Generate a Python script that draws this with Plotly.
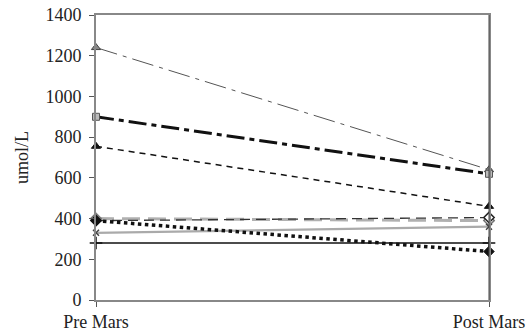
import plotly.graph_objects as go

categories = ["Pre Mars", "Post Mars"]
x_pos = [0, 1]

# umol/L per subject, before and after
s_gray_tri = [1240, 640]
s_square = [900, 620]
s_black_tri = [755, 460]
s_black_dash = [390, 405]
s_gray_dash = [400, 390]
s_gray_solid = [330, 360]
s_black_solid = [280, 280]
s_dotted = [390, 238]

y_ticks = [0, 200, 400, 600, 800, 1000, 1200, 1400]

SERIF = "'Liberation Serif', 'Times New Roman', Times, serif"

fig = go.Figure()

def add(y, color, width, dash, symbol, msize, mcolor, mline="#333", mlw=1):
    fig.add_trace(go.Scatter(
        x=x_pos, y=y, mode="lines+markers",
        line=dict(color=color, width=width, dash=dash),
        marker=dict(symbol=symbol, size=msize, color=mcolor,
                    line=dict(color=mline, width=mlw)),
        showlegend=False, cliponaxis=False))

add(s_gray_tri, "#555555", 1, "22px,6px,4px,6px", "triangle-up", 8, "#888888", "#444444")
add(s_square, "#111111", 3, "18px,5px,5px,5px", "square", 7, "#bbbbbb", "#555555")
add(s_black_tri, "#111111", 1.5, "6px,5px", "triangle-up", 8, "#111111", "#111111")
add(s_gray_dash, "#b0b0b0", 3, "18px,8px", "diamond", 8, "#ffffff", "#777777", 1.5)
add(s_black_dash, "#333333", 1.3, "10px,6px", "diamond", 8, "#ffffff", "#222222", 1.5)
add(s_gray_solid, "#aaaaaa", 2.2, "solid", "x-thin", 6, "#444444", "#444444", 1.5)
add(s_black_solid, "#111111", 1.3, "solid", "cross-thin", 9, "#111111", "#111111", 1.5)
add(s_dotted, "#111111", 3.5, "dot", "diamond", 8, "#111111", "#111111")

fig.update_layout(
    width=530, height=331,
    margin=dict(l=96, r=41, t=15, b=31, autoexpand=False),
    paper_bgcolor="white", plot_bgcolor="white",
    font=dict(family=SERIF, size=18, color="#222222"),
    xaxis=dict(range=[0, 1], tickvals=x_pos, ticktext=categories,
               showgrid=False, zeroline=False, showline=True,
               linecolor="#888888", linewidth=1.5, mirror=True,
               ticks="outside", ticklen=5, tickcolor="#555555",
               automargin=False, ticklabelstandoff=0,
               tickfont=dict(family=SERIF, size=18)),
    yaxis=dict(range=[0, 1400], tickvals=y_ticks, showgrid=False,
               zeroline=False, showline=True, linecolor="#888888",
               linewidth=2, mirror=True, ticks="outside", ticklen=5,
               tickcolor="#555555", ticklabelstandoff=4, automargin=False,
               tickfont=dict(family=SERIF, size=18),
               title=dict(text="umol/L", standoff=12,
                          font=dict(family=SERIF, size=18))),
)

# darker right-hand frame edge
fig.add_shape(type="line", xref="paper", yref="paper", x0=1, x1=1, y0=0, y1=1,
              line=dict(color="#444444", width=1))

fig.write_html("out.html")
